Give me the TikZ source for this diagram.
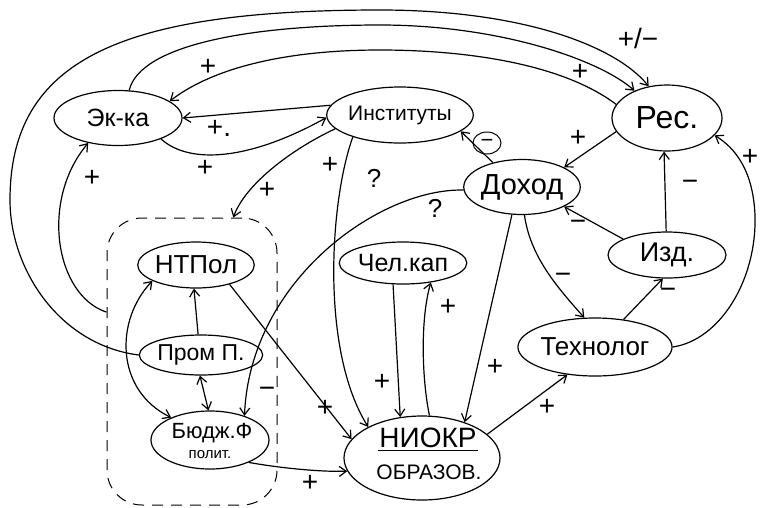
\documentclass[tikz,border=0pt]{standalone}
\usepackage{fontspec}
\setmainfont{Liberation Sans}
\usetikzlibrary{shapes.geometric,arrows.meta}
\begin{document}
\begin{tikzpicture}[x=1pt,y=-1pt,line width=1.2pt,
  >={Straight Barb[length=7pt,width=10pt]},
  ell/.style={draw,ellipse,inner sep=0pt,line width=1.2pt},
  fs/.style={font=\fontsize{#1}{#1}\selectfont},
  sg/.style={font=\fontsize{28}{28}\selectfont,inner sep=0pt},
  qm/.style={font=\fontsize{26}{26}\selectfont,inner sep=0pt},
  txt/.style={inner sep=1pt},
  grpbox/.style={draw,dashed,dash pattern=on 11pt off 8pt,rounded corners=35pt,line width=1pt}]
\useasboundingbox (0,0) rectangle (760,507);

% group box
\node[grpbox,minimum width=170pt,minimum height=287pt] (grp) at (192,361.5) {};

% nodes
\node[ell,fs=25,minimum width=128pt,minimum height=55pt] (ek) at (118,118) {Эк-ка};
\node[ell,fs=21,minimum width=124pt,minimum height=56pt] (inst) at (400,115) {Институты};
\node[ell,fs=32,minimum width=110pt,minimum height=66pt] (res) at (667,118) {Рес.};
\node[ell,fs=29,minimum width=107pt,minimum height=55pt] (dohod) at (522,187) {Доход};
\node[ell,fs=25,minimum width=117pt,minimum height=42pt] (chel) at (403,263) {Чел.кап};
\node[ell,fs=27,minimum width=118pt,minimum height=46pt] (izd) at (667,255) {Изд.};
\node[ell,fs=26,minimum width=128pt,minimum height=58pt] (tech) at (595,347) {Технолог};
\node[ell,minimum width=156pt,minimum height=84pt] (niokr) at (422,458) {};
\node[txt,font=\fontsize{28}{28}\selectfont] (nA) at (428,438) {НИОКР};
\draw[line width=1pt] ([yshift=-1pt]nA.south west) -- ([yshift=-1pt]nA.south east);
\node[txt,fs=21] (nB) at (429,472) {ОБРАЗОВ.};
\node[ell,fs=26,minimum width=102pt,minimum height=46pt] (ntp) at (196,265) {НТПол};
\node[ell,fs=23,minimum width=113pt,minimum height=40pt] (prom) at (201,355) {Пром П.};
\node[ell,minimum width=118pt,minimum height=58pt] (budg) at (210,440) {};
\node[txt,fs=22] (bA) at (212,433) {Бюдж.Ф};
\node[txt,fs=15] (bB) at (210,455) {полит.};

% connectors
\draw[->] (prom.west) .. controls (60,345) and (10,270) .. (10,200)
  .. controls (10,60) and (120,10) .. (380,10)
  .. controls (520,10) and (615,45) .. (res.120);
\draw[->] (ek.68) .. controls (140,45) and (250,25) .. (380,25)
  .. controls (500,25) and (600,60) .. (res.140);
\draw[->] (res.165) .. controls (560,62) and (460,50) .. (380,50)
  .. controls (280,50) and (210,70) .. (ek.18);
\draw[->] (inst.172) -- (ek.east);
\draw[->] (ek.-26) .. controls (190,165) and (250,160) .. (inst.182);
\draw[->] (inst.192) .. controls (290,150) and (245,185) .. (grp.74);
\draw[->] (grp.150) .. controls (55,295) and (40,200) .. (ek.-140);
\draw[->] (inst.-155) .. controls (330,200) and (320,350) .. (niokr.150);
\draw[->] (dohod.183) .. controls (380,188) and (250,280) .. (budg.35);
\draw[->] (dohod.140) -- (inst.-15);
\draw[->] (res.195) -- (dohod.25);
\draw[->] (izd.160) -- (dohod.-25);
\draw[->] (izd.92) -- (res.-95);
\draw[->] (tech.east) .. controls (720,340) and (757,280) .. (755,215)
  .. controls (753,170) and (735,148) .. (res.-20);
\draw[->] (tech.44) -- (izd.-100);
\draw[->] (dohod.-85) .. controls (530,255) and (555,285) .. (tech.110);
\draw[->] (dohod.-110) -- (niokr.40);
\draw[->] (niokr.20) -- (tech.-135);
\draw[->] (chel.-115) -- (niokr.118);
\draw[->] (niokr.80) .. controls (422,380) and (420,320) .. (chel.-35);
\draw[->] (ntp.-30) -- (niokr.165);
\draw[->] (budg.-30) .. controls (280,468) and (320,472) .. (niokr.190);
\draw[->] (prom.98) -- (ntp.-95);
\draw[<->] (prom.-93) -- (budg.93);
\draw[<->] (ntp.200) .. controls (115,320) and (115,390) .. (budg.150);

% labels
\node[sg] (l1) at (638,38) {+/−};
\node[sg] (l2) at (580,72) {+};
\node[sg] (l3) at (208,67) {+};
\node[sg] (l4) at (219,128) {+.};
\node[sg] (l5) at (205,168) {+};
\node[sg] (l6) at (267,190) {+};
\node[sg] (l7) at (92,178) {+};
\node[sg] (l8) at (330,165) {+};
\node[qm] (q1) at (374,178) {?};
\node[qm] (q2) at (435,208) {?};
\node[sg] (l9) at (267,392) {−};
\node[draw,ellipse,inner sep=0pt,minimum width=28pt,minimum height=22pt,line width=1pt,fs=22] (l10) at (487,143) {−};
\node[sg] (l11) at (578,138) {+};
\node[sg] (l12) at (578,225) {−};
\node[sg] (l13) at (690,185) {−};
\node[sg] (l14) at (750,157) {+};
\node[sg] (l15) at (668,293) {−};
\node[sg] (l16) at (563,278) {−};
\node[sg] (l17) at (495,367) {+};
\node[sg] (l18) at (547,407) {+};
\node[sg] (l19) at (382,382) {+};
\node[sg] (l20) at (448,307) {+};
\node[sg] (l21) at (325,408) {+};
\node[sg] (l22) at (310,483) {+};
\end{tikzpicture}
\end{document}
